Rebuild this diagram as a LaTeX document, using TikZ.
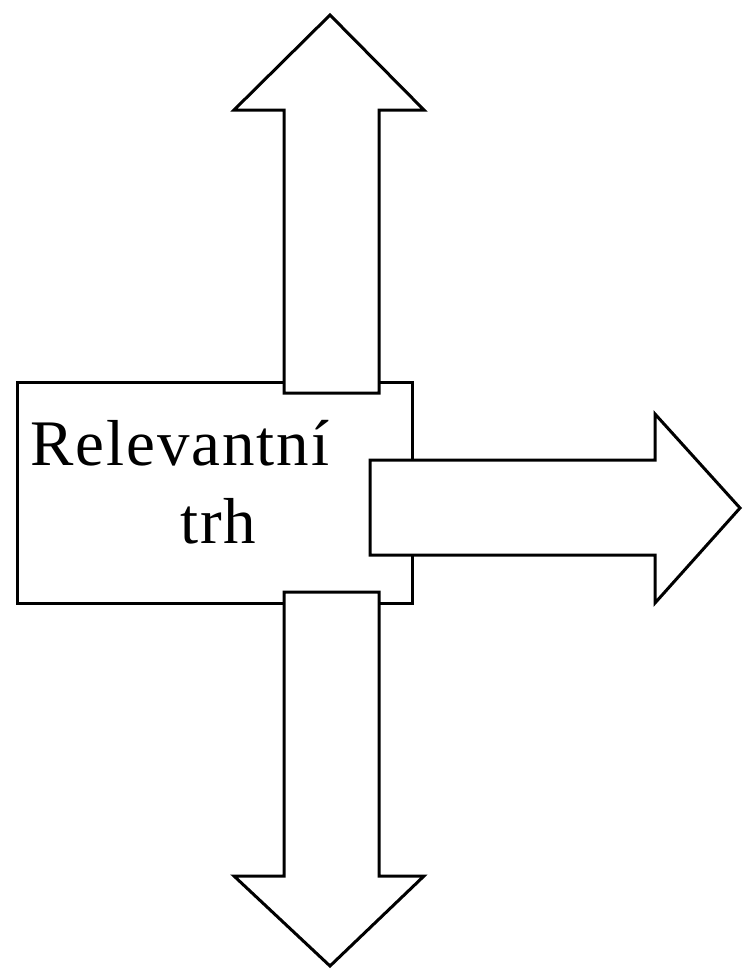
\documentclass[tikz,border=0pt]{standalone}
\usepackage{fontspec}
\setmainfont{Liberation Serif}
\usetikzlibrary{positioning}

\begin{document}
\begin{tikzpicture}[x=1pt,y=-1pt,
    outline/.style={draw=black,fill=white,line width=3pt},
    market text/.style={inner sep=0pt,font=\fontsize{65}{78}\selectfont\addfontfeature{LetterSpace=3}}]
    \useasboundingbox (0,0) rectangle (742,969);
    % the market box
    \draw[outline] (17,382) rectangle (412,603);
    \node[market text,anchor=base west] (rel) at (30,465) {Relevantní};
    \node[market text,anchor=base west] (trh) at (180,543) {trh};
    % arrow up
    \draw[outline] (284,393) -- (284,110) -- (234,110) -- (330,15)
      -- (424,110) -- (379,110) -- (379,393) -- cycle;
    % arrow down
    \draw[outline] (284,592) -- (284,876) -- (234,876) -- (330,966)
      -- (424,876) -- (379,876) -- (379,592) -- cycle;
    % arrow right
    \draw[outline] (370,460) -- (655,460) -- (655,414) -- (740,508)
      -- (655,603) -- (655,555) -- (370,555) -- cycle;
\end{tikzpicture}
\end{document}
